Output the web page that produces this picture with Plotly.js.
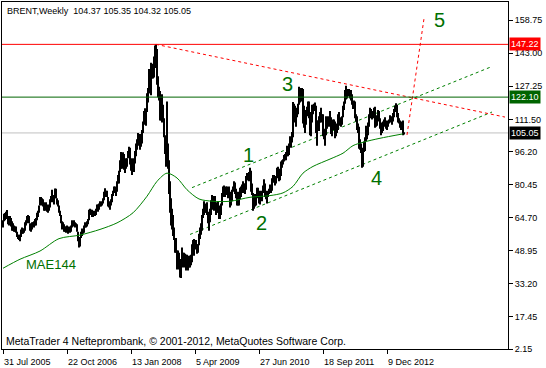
<!DOCTYPE html>
<html>
<head>
<meta charset="utf-8">
<script src="https://cdn.plot.ly/plotly-3.0.1.min.js"></script>
<style>
html,body{margin:0;padding:0;background:#fff;}
#chart{width:546px;height:368px;}
</style>
</head>
<body>
<div id="chart"></div>
<script>
// ---- Weekly BRENT bars (week starting Sunday), first week 2005-07-31 ----
const firstWeek = '2005-07-31';
const hi2005 = [63.5,66.5,66.9,67.5,68.4,65.5,65.0,65.5,64.5,63.0,62.0,61.0,60.5,60.5,58.0,56.5,56.5,56.5,59.0,60.0,59.5,59.5];
const lo2005 = [60.0,63.0,63.5,64.0,64.0,61.5,61.0,62.0,60.5,58.5,58.5,58.0,58.0,57.5,55.5,54.5,54.0,53.5,55.5,57.0,57.0,57.5];
const hi2006 = [62.5,63.5,65.5,66,65.5, 62,61,62.5,62.5, 63,64,64.5,67, 68,70.5,74.5,74.5,74, 73.5,72,71.5,72, 71,70.5,71,73.5, 75,78,75.5,74.5,78.6, 78.5,74,73,70.5, 68,66,63,62.5, 61.5,60.5,60.5,61,60, 60.5,60,61,63.5, 63,63.5,62.5,62];
const lo2006 = [58.5,61,62,63,62, 58.5,58,59,60.5, 60,61,61,63.5, 65,67,70.5,71,70.5, 70,68,68,68.5, 67.5,67,68,69.5, 72,72.5,72,71,74, 74,71,70,67, 65.5,62,59,59.5, 58,58,57.5,58.5,57, 58,57.5,58,60, 60.5,61,60,60.5];
const hi2007 = [61.5, 58,54.5,55.5,58, 59.5,59,61,62.5, 62,63,64,68.5, 69,68.5,68.5,67.5,68, 67.5,69,71,71, 71.5,72.5,72,72.5, 74,77,78.7,77.5,77.5, 74.5,72.5,71.5,73.5, 76,77.5,79.5,79.5,79, 82,85,87,92, 96,93,95.8,95, 89.5,93,93,96.5,98.5];
const lo2007 = [58, 53.5,50.5,51,55, 56,57,57.5,60, 60,60.5,61.5,63.5, 66,66.5,65,65,66, 65.5,66,68.5,67.5, 68.5,70,70,70.5, 71.5,73,76,74.5,74.5, 70,69.5,68.5,70.5, 72,75,77,76.5,75, 77,81,81,86.5, 88,88,92,87.5, 86,88,89,93,94];
const hi2008 = [98,93,91.5,93, 92,96.5,100,102, 105,104.5,104,104.5,106.5, 110.5,115.5,116.8,116, 124,126.5,135.5,133, 138.5,137.5,138,141.5,146.7, 147.22,145,132,127, 125,116,123.5,118.5,112, 104,102,120,100, 92,82,74,69, 66,60,55,55,49, 49,48,42,45];
const lo2008 = [90,87,85,88, 86.5,90.5,94,97, 99,100,97,98.5,100, 105,109,111,108.5, 115,119.5,124,124, 123,131,131,131.5,139, 136,128,122,120.5, 111,111,110,111,103, 95,89,96,88, 76,67,61,59, 56,54,48,48,40, 41.5,40,36.2,36];
const hi2009 = [50.5,48,48,47.5, 47,47,45,46.5, 46.5,47,52,54,54.5, 54,54,52,52, 57,60,62,66,69, 72.5,71.5,71,72, 67.5,64,69,73, 75.5,74.5,75,75,72, 71.5,72.5,70.5,69, 71.5,76.5,79.5,80, 79,79.5,79.5,79,79.5, 77,75,78,79.5];
const lo2009 = [43,41,42.5,41, 39.5,42,39.5,41, 41,42,43.5,49.5,46.5, 50,49.5,47.5,48, 51.5,54.5,56.5,58.5,64.5, 66,67,67,66, 62,58.5,62.5,66, 71,68.5,68,70.5,66, 67,67,64,64, 66,70.5,74.5,74.5, 74.5,75.5,76.5,74,75, 69.5,70.5,72.5,77];
const hi2010 = [82,81.5,78.5,75.5,77, 75,79,79.5,80.5, 82,81,81,84.5, 86,86,86.5,88.5, 87,81,76.5,75.5,76, 75.5,79,79,77.5, 76.5,77.5,77,80, 83,81,77.5,76.5,77.5, 78.5,80.5,80,83.5, 85,85,84.5,84.5,88.5, 89,88,86.5,91.5, 92,92.5,94.5,95];
const lo2010 = [78,76,74,70.5,70.5, 70.5,73.5,74.5,76.5, 78,76.5,76,78, 82.5,82.5,82,84, 77,75.5,68,69,70, 70.5,74,74.5,71.5, 71,73.5,72.5,76.5, 78.5,74.5,73.5,71.5,74.5, 76,77,76.5,77.5, 81.5,81.5,80,81,83.5, 86,82,82.5,84.5, 88.5,90,91.5,92];
const hi2011 = [96,99,98.5,100,103.5, 102,105.5,119.8,119, 118,116,117,119, 127,126.5,124.5,126.5, 126,118,113,116,117.5, 120,120,115,112.5, 118.5,118.5,119,119.5,118, 111,111,113,115, 117,114,114,107, 106,113,112,113,112, 115.5,112.5,110,111.5, 111.5,110.5,108.5,109.5];
const lo2011 = [92,94,94,94.5,99, 98,100.5,103,110, 111,108,112.5,114, 118.5,119.5,120,121, 109.5,107.5,105,109,113.5, 113,112,104,103.5, 110,114,115.5,115.5,105, 99,106,106,110, 110,110.5,103.5,102, 99,104,107,109,108, 111,104.5,103.5,107, 106.5,102.5,103.5,105];
const hi2012 = [114,115,112.5,111.5,113, 118,120,125.5,127.5, 126,126,126,124, 125.5,123.5,120,120.5,120, 114,113,109.5,108, 102,100,96,98, 101,103,108.5,107.5,110, 114,117,116.5,115, 115.5,117,117.5,111.5,113.5, 116,115.5,112,110, 109.5,110.5,111.5,112.5, 111,109.5,111,111.5,113.5];
const lo2012 = [106.5,109.5,108.5,108,109, 112.5,116,119,121, 121.5,122.5,122.5,121.5, 120.5,118.5,116.5,116.5,112, 110.5,106.5,105,97.5, 97,95.5,88.5,89, 96,96.5,101,102,104, 108,112.5,112,111.5, 112,112.5,107.5,108,108.5, 111,110.5,107,104, 105,106,108,109.5, 107,106.5,108,109.5,110.5];
const hi2013 = [113,112,114.5,116.5, 118,119.2,118.5,114.5, 112,111,110,110.5,111, 105.35];
const lo2013 = [110,109,110.5,112.5, 115,116,112.5,110, 109.5,107.5,106.5,107.5,104, 104.32];

// last bar OHLC shown in the header
const lastBar = ['104.37','105.35','104.32','105.05'];

// MAE144 line
const maDates = ['2005-07-31','2005-11-27','2006-04-16','2006-08-27','2007-01-21','2007-06-10','2007-10-07','2008-01-27','2008-05-04','2008-07-13','2008-09-21','2008-11-30','2009-02-08','2009-05-03','2009-08-09','2009-12-06','2010-04-25','2010-09-12','2010-12-12','2011-02-20','2011-05-01','2011-07-10','2011-11-06','2012-02-05','2012-04-15','2012-06-24','2012-10-21','2013-03-31'];
const maVals  = [40.6,44.9,48.8,54.7,56.4,59.1,62.2,67.0,74.9,82.0,85.9,83.6,78.0,73.6,72.5,72.5,74.4,75.2,76.5,79.6,85.9,89.1,92.6,95.4,99.0,100.6,102.5,104.6];

// trend lines (two points each)
const upChDates = ['2009-03-15','2014-11-30'], upChVals = [79.0,136.3];
const loChDates = ['2009-03-01','2014-12-14'], loChVals = [56.7,115.0];
const resDates  = ['2008-07-06','2015-03-15'], resVals  = [147.22,112.6];
const w5Dates   = ['2013-04-28','2013-08-25'], w5Vals   = [104.1,159.5];

// horizontal levels
const levelVals   = [147.22, 122.10, 105.05];
const levelText   = ['147.22','122.10','105.05'];
const levelColors = ['#ff0000','#006400','#c0c0c0'];
const levelBoxes  = ['#ff0000','#006400','#000000'];

// axes
const yTickVals = [158.75,143.00,127.25,111.50,96.20,80.45,64.70,48.95,33.20,17.45,2.15];
const yTickText = ['158.75','143.00','127.25','111.50','96.20','80.45','64.70','48.95','33.20','17.45','2.15'];
const xTickVals = ['2005-07-31','2006-10-22','2008-01-13','2009-04-05','2010-06-27','2011-09-18','2012-12-09'];
const xTickText = ['31 Jul 2005','22 Oct 2006','13 Jan 2008','5 Apr 2009','27 Jun 2010','18 Sep 2011','9 Dec 2012'];

// wave labels
const waveText  = ['1','2','3','4','5'];
const waveDates = ['2010-04-11','2010-07-11','2011-01-09','2012-09-23','2013-12-08'];
const waveVals  = [94.5,62.3,128.35,83.45,158.8];

// ---- build ----
const HI = [].concat(hi2005,hi2006,hi2007,hi2008,hi2009,hi2010,hi2011,hi2012,hi2013);
const LO = [].concat(lo2005,lo2006,lo2007,lo2008,lo2009,lo2010,lo2011,lo2012,lo2013);
const t0 = Date.parse(firstWeek + 'T00:00:00Z');
function wk(i){ return new Date(t0 + i*7*86400000).toISOString().slice(0,10); }
const bx = [], by = [];
for (let i = 0; i < HI.length; i++) { const d = wk(i); bx.push(d, d, null); by.push(LO[i], HI[i], null); }

const GREEN = '#007000';
const FONT = 'Liberation Sans, Arial, sans-serif';

const traces = [
  {x: upChDates, y: upChVals, mode:'lines', line:{color:'#008000', width:1, dash:'3px,3px'}},
  {x: loChDates, y: loChVals, mode:'lines', line:{color:'#008000', width:1, dash:'3px,3px'}},
  {x: resDates, y: resVals, mode:'lines', line:{color:'#ff0000', width:1, dash:'3px,3px'}},
  {x: w5Dates, y: w5Vals, mode:'lines', line:{color:'#ff0000', width:1, dash:'3px,3px'}},
  {x: bx, y: by, mode:'lines', line:{color:'#000000', width:2}, connectgaps:false},
  {x: maDates, y: maVals, mode:'lines', line:{color:'#008000', width:1, shape:'spline', smoothing:0.8}}
];

const shapes = levelVals.map((v,i) => ({type:'line', xref:'paper', x0:0, x1:1, yref:'y', y0:v, y1:v,
  line:{color:levelColors[i], width:1}, layer: i===2 ? 'below' : 'above'}));

const ann = [];
levelVals.forEach((v,i) => ann.push({xref:'paper', x:1, xanchor:'left', xshift:1, yref:'y', y:v, yanchor:'middle',
  text:levelText[i], showarrow:false, bgcolor:levelBoxes[i], borderpad:1,
  font:{family:FONT, size:9, color:'#ffffff'}}));
xTickVals.forEach((d,i) => ann.push({xref:'x', x:d, xanchor:'left', xshift:-1, yref:'paper', y:0, yanchor:'top', yshift:-6,
  text:xTickText[i], showarrow:false, font:{family:FONT, size:9, color:'#000'}}));
waveText.forEach((t,i) => ann.push({xref:'x', x:waveDates[i], yref:'y', y:waveVals[i], xanchor:'center', yanchor:'middle',
  text:t, showarrow:false, font:{family:FONT, size:20, color:GREEN}}));
ann.push({xref:'x', x:'2006-07-02', yref:'y', y:42.2, xanchor:'center', yanchor:'middle', text:'MAE144', showarrow:false,
  font:{family:FONT, size:13, color:GREEN}});
ann.push({xref:'paper', x:0, xanchor:'left', xshift:3, yref:'paper', y:1, yanchor:'top', yshift:-2,
  text:'BRENT,Weekly\u00a0\u00a0' + lastBar.join(' '), showarrow:false, font:{family:FONT, size:9, color:'#000'}});
ann.push({xref:'paper', x:0, xanchor:'left', xshift:2, yref:'paper', y:0, yanchor:'bottom', yshift:0,
  text:'MetaTrader 4 Nefteprombank, © 2001-2012, MetaQuotes Software Corp.', showarrow:false, font:{family:FONT, size:10.5, color:'#000'}});

const layout = {
  width:546, height:368,
  margin:{l:2, r:38, t:2, b:19, pad:0},
  paper_bgcolor:'#ffffff', plot_bgcolor:'#ffffff',
  showlegend:false,
  font:{family:FONT, size:9, color:'#000'},
  xaxis:{type:'date', range:['2005-07-24','2015-04-05'], showgrid:false, zeroline:false,
    showline:true, mirror:true, linecolor:'#000', linewidth:1,
    tickmode:'array', tickvals:xTickVals, ticktext:xTickVals.map(()=>''), showticklabels:false,
    ticks:'outside', ticklen:4, tickcolor:'#000', tickwidth:1},
  yaxis:{range:[2.15,167.4], side:'right', showgrid:false, zeroline:false,
    showline:true, mirror:true, linecolor:'#000', linewidth:1,
    tickmode:'array', tickvals:yTickVals, ticktext:yTickText,
    ticks:'outside', ticklen:4, tickcolor:'#000', tickwidth:1,
    tickfont:{family:FONT, size:9, color:'#000'}},
  shapes: shapes,
  annotations: ann
};

Plotly.newPlot('chart', traces, layout, {staticPlot:true, displayModeBar:false});
</script>
</body>
</html>
